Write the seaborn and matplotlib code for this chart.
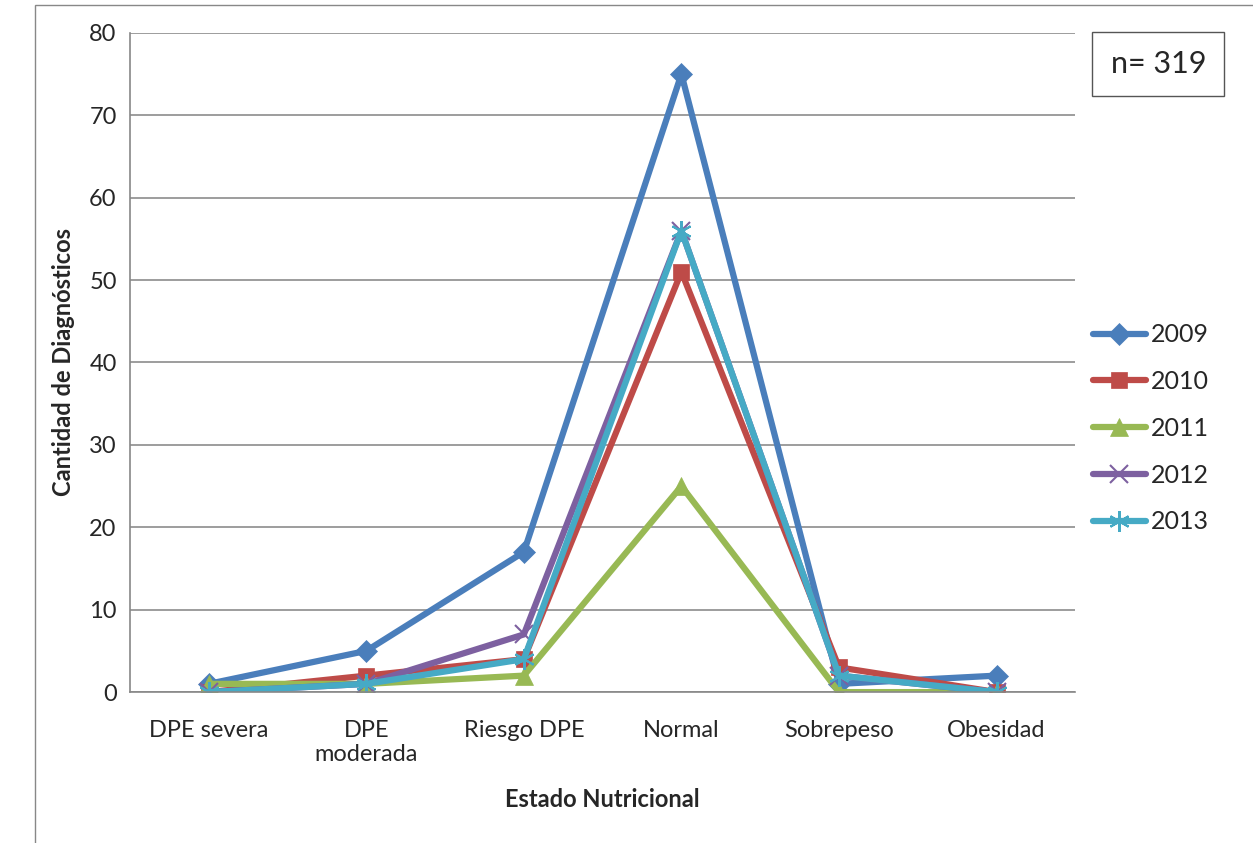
import pandas as pd
import matplotlib.pyplot as plt
import seaborn as sns
from matplotlib.patches import Rectangle

# categorias del eje x
estados = ["DPE severa", "DPE\nmoderada", "Riesgo DPE", "Normal", "Sobrepeso", "Obesidad"]

# valores por año
anios = ["2009", "2010", "2011", "2012", "2013"]
v2009 = [1, 5, 17, 75, 1, 2]
v2010 = [0, 2, 4, 51, 3, 0]
v2011 = [1, 1, 2, 25, 0, 0]
v2012 = [0, 1, 7, 56, 2, 0]
v2013 = [0, 1, 4, 56, 2, 0]

colores = ["#4a7ebb", "#be4b48", "#98b954", "#7d60a0", "#46aac5"]
marcadores = ["D", "s", "^", "x", (6, 2, 0)]
tamanos = [11, 12, 13, 13, 15]

series = [v2009, v2010, v2011, v2012, v2013]

sns.set_style("white")
plt.rcParams["font.family"] = ["Lato", "DejaVu Sans"]

fig = plt.figure(figsize=(12.53, 8.43), dpi=100)
ax = fig.add_axes([0.1037, 0.179, 0.7545, 0.782])

# una linea por año (seaborn no mezcla marcadores rellenos y de trazo)
for anio, valores, c, m, t in zip(anios, series, colores, marcadores, tamanos):
    df = pd.DataFrame({"pos": range(len(estados)), "valor": valores})
    mew = 1.5 if isinstance(m, tuple) or m == "x" else 0.5
    sns.lineplot(data=df, x="pos", y="valor", color=c, marker=m,
                 linewidth=4.5, markersize=t, markeredgewidth=mew,
                 markeredgecolor=c, ax=ax, label=anio)

ax.set_xlim(-0.5, 5.5)
ax.set_ylim(0, 80)
ax.set_yticks(range(0, 81, 10))
ax.set_xticks(range(6))
ax.set_xticklabels(estados, fontsize=17)
ax.set_xticks([i - 0.5 for i in range(7)], minor=True)
ax.tick_params(axis="x", which="major", length=0, pad=20)
ax.tick_params(axis="x", which="minor", length=7, color="#888888", width=1.2, direction="out")
ax.tick_params(axis="y", length=6, color="#888888", width=1.2, direction="out", labelsize=17)
ax.yaxis.grid(True, color="#8c8c8c", linewidth=1.2)
ax.xaxis.grid(False)
for lado in ["top", "right"]:
    ax.spines[lado].set_visible(False)
for lado in ["left", "bottom"]:
    ax.spines[lado].set_color("#888888")
    ax.spines[lado].set_linewidth(1.2)

ax.set_xlabel("Estado Nutricional", fontsize=17, fontweight="bold", labelpad=16)
ax.set_ylabel("Cantidad de Diagnósticos", fontsize=17, fontweight="bold", labelpad=10)

# leyenda
ax.legend(loc="center left", bbox_to_anchor=(0.995, 0.40),
          frameon=False, fontsize=18, handlelength=2.1, labelspacing=0.95,
          handletextpad=0.2)

# caja n=
fig.text(0.9245, 0.924, "n= 319", fontsize=22, ha="center", va="center",
         bbox=dict(boxstyle="square,pad=0.6", facecolor="white", edgecolor="#555555"))

# marco del grafico
fig.patches.append(Rectangle((0.028, -0.01), 1.0, 1.004, transform=fig.transFigure,
                             fill=False, edgecolor="#888888", linewidth=1))

fig.savefig("out.png", dpi=100)
